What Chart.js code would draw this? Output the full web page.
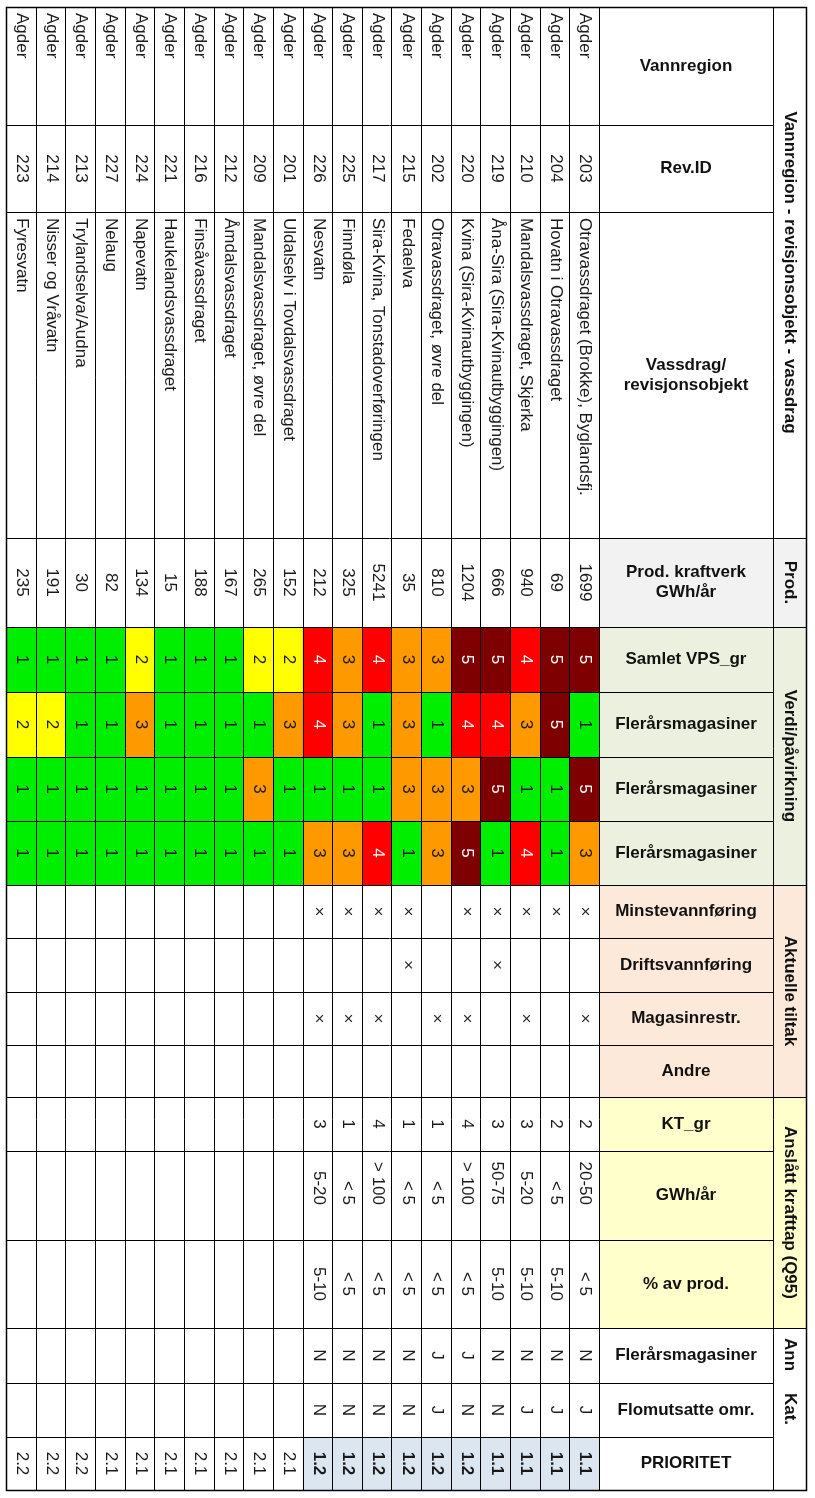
<!DOCTYPE html>
<html>
<head>
<meta charset="utf-8">
<script src="https://cdn.jsdelivr.net/npm/chart.js@4.4.1/dist/chart.umd.min.js"></script>
<style>
  html, body { margin: 0; padding: 0; background: #fff; }
  #wrap { width: 815px; height: 1498px; position: relative; }
</style>
</head>
<body>
<div id="wrap"><canvas id="myChart"></canvas></div>
<script>
// table rows, first row is the one next to the header (right side of the picture)
const regions = Array(20).fill("Agder");
const revIds = ["203", "204", "210", "219", "220", "202", "215", "217", "225", "226",
                "201", "209", "212", "216", "221", "224", "227", "213", "214", "223"];
const vassdrag = [
  "Otravassdraget (Brokke), Byglandsfj.", "Hovatn i Otravassdraget", "Mandalsvassdraget, Skjerka",
  "Åna-Sira (Sira-Kvinautbyggingen)", "Kvina (Sira-Kvinautbyggingen)", "Otravassdraget, øvre del",
  "Fedaelva", "Sira-Kvina, Tonstadoverføringen", "Finndøla", "Nesvatn",
  "Uldalselv i Tovdalsvassdraget", "Mandalsvassdraget, øvre del", "Åmdalsvassdraget", "Finsåvassdraget",
  "Haukelandsvassdraget", "Napevatn", "Nelaug", "Trylandselva/Audna", "Nisser og Vråvatn", "Fyresvatn"
];
const prod = [1699, 69, 940, 666, 1204, 810, 35, 5241, 325, 212, 152, 265, 167, 188, 15, 134, 82, 30, 191, 235];

// Verdi/påvirkning classes (1-5)
const samletVps = [5, 5, 4, 5, 5, 3, 3, 4, 3, 4, 2, 2, 1, 1, 1, 2, 1, 1, 1, 1];
const fler1 = [1, 5, 3, 4, 4, 1, 3, 1, 3, 4, 3, 1, 1, 1, 1, 3, 1, 1, 2, 2];
const fler2 = [5, 1, 1, 5, 3, 3, 3, 1, 1, 1, 1, 3, 1, 1, 1, 1, 1, 1, 1, 1];
const fler3 = [3, 1, 4, 1, 5, 3, 1, 4, 3, 3, 1, 1, 1, 1, 1, 1, 1, 1, 1, 1];

// Aktuelle tiltak
const blank10 = Array(10).fill("");
const minstevann = ["x", "x", "x", "x", "x", "", "x", "x", "x", "x", ...blank10];
const driftsvann = ["", "", "", "x", "", "", "x", "", "", "", ...blank10];
const magasinrestr = ["x", "", "x", "", "x", "x", "", "x", "x", "x", ...blank10];
const andre = Array(20).fill("");

// Anslått krafttap (Q95)
const ktGr = ["2", "2", "3", "3", "4", "1", "1", "4", "1", "3", ...blank10];
const gwhAar = ["20-50", "< 5", "5-20", "50-75", "> 100", "< 5", "< 5", "> 100", "< 5", "5-20", ...blank10];
const pctProd = ["< 5", "5-10", "5-10", "5-10", "< 5", "< 5", "< 5", "< 5", "< 5", "5-10", ...blank10];

// Ann. kat.
const annFler = ["N", "N", "N", "N", "J", "J", "N", "N", "N", "N", ...blank10];
const flomutsatte = ["J", "J", "J", "N", "N", "J", "N", "N", "N", "N", ...blank10];
const prioritet = ["1.1", "1.1", "1.1", "1.1", "1.2", "1.2", "1.2", "1.2", "1.2", "1.2",
                   "2.1", "2.1", "2.1", "2.1", "2.1", "2.1", "2.1", "2.2", "2.2", "2.2"];

// class colours
const classColors = { 1: "#00ee00", 2: "#ffff00", 3: "#ff9900", 4: "#ff0000", 5: "#7f0000" };
const FONT = "'Liberation Sans', Arial, sans-serif";

// table columns (drawn top to bottom in the picture)
const columns = [
  { header: ["Vannregion"], values: regions, top: 7, bottom: 125, align: "start", hbg: "#fff" },
  { header: ["Rev.ID"], values: revIds, top: 125, bottom: 212, hbg: "#fff" },
  { header: ["Vassdrag/", "revisjonsobjekt"], values: vassdrag, top: 212, bottom: 538, align: "start", hbg: "#fff" },
  { header: ["Prod. kraftverk", "GWh/år"], values: prod, top: 538, bottom: 627, hbg: "#f2f2f2" },
  { header: ["Samlet VPS_gr"], values: samletVps, top: 627, bottom: 692, hbg: "#ebf1de", cls: true },
  { header: ["Flerårsmagasiner"], values: fler1, top: 692, bottom: 757, hbg: "#ebf1de", cls: true },
  { header: ["Flerårsmagasiner"], values: fler2, top: 757, bottom: 821, hbg: "#ebf1de", cls: true },
  { header: ["Flerårsmagasiner"], values: fler3, top: 821, bottom: 885, hbg: "#ebf1de", cls: true },
  { header: ["Minstevannføring"], values: minstevann, top: 885, bottom: 938, hbg: "#fde9d9", mark: true },
  { header: ["Driftsvannføring"], values: driftsvann, top: 938, bottom: 992, hbg: "#fde9d9", mark: true },
  { header: ["Magasinrestr."], values: magasinrestr, top: 992, bottom: 1045, hbg: "#fde9d9", mark: true },
  { header: ["Andre"], values: andre, top: 1045, bottom: 1097, hbg: "#fde9d9" },
  { header: ["KT_gr"], values: ktGr, top: 1097, bottom: 1151, hbg: "#ffffcc" },
  { header: ["GWh/år"], values: gwhAar, top: 1151, bottom: 1240, hbg: "#ffffcc", align: "end" },
  { header: ["% av prod."], values: pctProd, top: 1240, bottom: 1328, hbg: "#ffffcc" },
  { header: ["Flerårsmagasiner"], values: annFler, top: 1328, bottom: 1383, hbg: "#fff" },
  { header: ["Flomutsatte omr."], values: flomutsatte, top: 1383, bottom: 1437, hbg: "#fff" },
  { header: ["PRIORITET"], values: prioritet, top: 1437, bottom: 1490, hbg: "#fff", prio: true }
];

const groups = [
  { label: "Vannregion - revisjonsobjekt - vassdrag", top: 7, bottom: 538, bg: "#fff" },
  { label: "Prod.", top: 538, bottom: 627, bg: "#f2f2f2" },
  { label: "Verdi/påvirkning", top: 627, bottom: 885, bg: "#ebf1de" },
  { label: "Aktuelle tiltak", top: 885, bottom: 1097, bg: "#fde9d9" },
  { label: "Anslått krafttap (Q95)", top: 1097, bottom: 1328, bg: "#ffffcc" },
  { label: "Kat.", top: 1328, bottom: 1490, bg: "#fff", extra: "Ann" }
];

const HEADER_W = 174;
const GROUP_W = 33;

function cellColor(col, v, i) {
  if (col.cls) return classColors[v];
  if (col.prio && String(v).startsWith("1.")) return "#dce6f1";
  return "#ffffff";
}

const tablePlugin = {
  id: "tablePlugin",
  afterDatasetsDraw(chart) {
    const ctx = chart.ctx;
    const y = chart.scales.y;
    const area = chart.chartArea;
    const hx0 = area.right;
    const hx1 = hx0 + HEADER_W;
    const gx1 = hx1 + GROUP_W;

    // header column and group column backgrounds
    columns.forEach((col) => {
      ctx.fillStyle = col.hbg;
      ctx.fillRect(hx0, y.getPixelForValue(col.top), HEADER_W, y.getPixelForValue(col.bottom) - y.getPixelForValue(col.top));
    });
    groups.forEach((g) => {
      ctx.fillStyle = g.bg;
      ctx.fillRect(hx1, y.getPixelForValue(g.top), GROUP_W, y.getPixelForValue(g.bottom) - y.getPixelForValue(g.top));
    });

    // grid lines
    ctx.save();
    ctx.strokeStyle = "#000";
    ctx.lineWidth = 1;
    const meta0 = chart.getDatasetMeta(0);
    const rowEdges = new Set();
    meta0.data.forEach((el) => {
      rowEdges.add(Math.round(el.x - el.width / 2));
      rowEdges.add(Math.round(el.x + el.width / 2));
    });
    ctx.beginPath();
    rowEdges.forEach((x) => {
      ctx.moveTo(x + 0.5, area.top);
      ctx.lineTo(x + 0.5, area.bottom);
    });
    ctx.moveTo(Math.round(hx1) + 0.5, area.top);
    ctx.lineTo(Math.round(hx1) + 0.5, area.bottom);
    columns.forEach((col) => {
      const py = Math.round(y.getPixelForValue(col.top)) + 0.5;
      ctx.moveTo(area.left, py);
      ctx.lineTo(hx1, py);
    });
    groups.forEach((g) => {
      const py = Math.round(y.getPixelForValue(g.top)) + 0.5;
      ctx.moveTo(hx1, py);
      ctx.lineTo(gx1, py);
    });
    ctx.stroke();
    ctx.lineWidth = 1.5;
    ctx.strokeRect(Math.round(area.left) + 0.5, Math.round(area.top) + 0.5,
      Math.round(gx1 - area.left), Math.round(area.bottom - area.top));
    ctx.restore();

    // header texts (horizontal)
    ctx.save();
    ctx.fillStyle = "#111";
    ctx.font = "bold 17px " + FONT;
    ctx.textAlign = "center";
    ctx.textBaseline = "middle";
    columns.forEach((col) => {
      const cy = (y.getPixelForValue(col.top) + y.getPixelForValue(col.bottom)) / 2;
      const n = col.header.length;
      col.header.forEach((line, k) => {
        ctx.fillText(line, (hx0 + hx1) / 2, cy + (k - (n - 1) / 2) * 20);
      });
    });
    ctx.restore();

    // group texts (rotated)
    ctx.save();
    ctx.fillStyle = "#111";
    ctx.font = "bold 17px " + FONT;
    ctx.textBaseline = "middle";
    groups.forEach((g) => {
      const t = y.getPixelForValue(g.top);
      const b = y.getPixelForValue(g.bottom);
      ctx.save();
      ctx.translate((hx1 + gx1) / 2, (t + b) / 2);
      ctx.rotate(Math.PI / 2);
      ctx.textAlign = "center";
      ctx.fillText(g.label, 0, 0);
      ctx.restore();
      if (g.extra) {
        ctx.save();
        ctx.translate((hx1 + gx1) / 2, t + 10);
        ctx.rotate(Math.PI / 2);
        ctx.textAlign = "left";
        ctx.fillText(g.extra, 0, 0);
        ctx.restore();
      }
    });
    ctx.restore();

    // cell texts (rotated)
    columns.forEach((col, d) => {
      const meta = chart.getDatasetMeta(d);
      meta.data.forEach((el, i) => {
        const v = col.values[i];
        if (v === "" || v === null || v === undefined) return;
        let text = String(v);
        if (col.mark) text = "×";
        const t = Math.min(el.y, el.base);
        const b = Math.max(el.y, el.base);
        let ay = (t + b) / 2;
        let align = "center";
        if (col.align === "start") { ay = t + 6; align = "left"; }
        if (col.align === "end") { ay = b - 35; align = "right"; }
        ctx.save();
        ctx.translate(el.x + 1, ay);
        ctx.rotate(Math.PI / 2);
        ctx.textAlign = align;
        ctx.textBaseline = "middle";
        ctx.fillStyle = col.cls && v >= 4 ? "#ffffff" : "#1a1a1a";
        const bold = col.prio && text.startsWith("1.");
        ctx.font = (bold ? "bold " : "") + "17px " + FONT;
        ctx.fillText(text, 0, 0);
        ctx.restore();
      });
    });
  }
};

const ctx = document.getElementById("myChart").getContext("2d");
const myChart = new Chart(ctx, {
  type: "bar",
  data: {
    labels: revIds,
    datasets: columns.map((col) => ({
      label: col.header.join(" "),
      data: col.values.map(() => [col.top, col.bottom]),
      backgroundColor: col.values.map((v, i) => cellColor(col, v, i)),
      borderWidth: 0,
      grouped: false,
      barPercentage: 1,
      categoryPercentage: 1
    }))
  },
  options: {
    responsive: true,
    maintainAspectRatio: false,
    animation: false,
    layout: { padding: { left: 6, top: 7, right: 216, bottom: 8 } },
    plugins: { legend: { display: false }, tooltip: { enabled: false } },
    scales: {
      x: { type: "category", reverse: true, display: false, offset: true },
      y: { type: "linear", reverse: true, min: 7, max: 1490, display: false }
    }
  },
  plugins: [tablePlugin]
});
</script>
</body>
</html>
